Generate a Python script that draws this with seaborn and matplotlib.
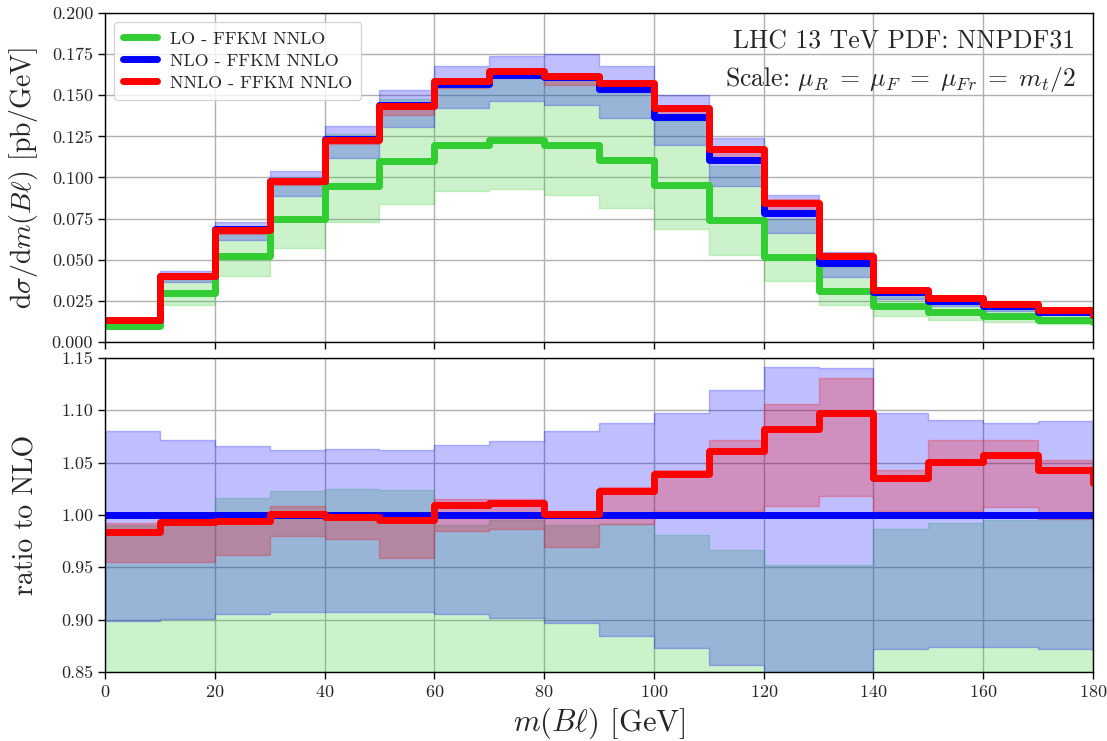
import numpy as np
import matplotlib
matplotlib.use("Agg")
import matplotlib.pyplot as plt
import seaborn as sns

# ---------------- data ----------------
edges = [0, 10, 20, 30, 40, 50, 60, 70, 80, 90, 100, 110, 120, 130, 140, 150, 160, 170, 180]

# top panel: differential cross section [pb/GeV]
lo_central = [0.0095, 0.0298, 0.052, 0.0748, 0.0947, 0.110, 0.1196, 0.123, 0.120, 0.1109,
              0.0953, 0.0744, 0.0515, 0.0312, 0.0221, 0.0180, 0.0156, 0.0131]
lo_end = 0.0120
lo_up = [0.0132, 0.0399, 0.0695, 0.0998, 0.1265, 0.1475, 0.1554, 0.1617, 0.1594, 0.1526,
         0.1344, 0.1069, 0.0747, 0.0455, 0.0298, 0.0250, 0.0217, 0.0184]
lo_dn = [0.0082, 0.0227, 0.0400, 0.0572, 0.0727, 0.0841, 0.0916, 0.0932, 0.0896, 0.0815,
         0.0687, 0.0531, 0.0369, 0.0227, 0.0156, 0.0136, 0.0120, 0.0110]

nlo_central = [0.0133, 0.0403, 0.0684, 0.0976, 0.1234, 0.1440, 0.1570, 0.1625, 0.1610, 0.1540,
               0.1370, 0.1105, 0.0785, 0.0478, 0.0302, 0.0252, 0.0218, 0.0185]
nlo_end = 0.0162
nlo_up = [0.0144, 0.0432, 0.0729, 0.1037, 0.1311, 0.1529, 0.1675, 0.1740, 0.1750, 0.1676,
          0.1503, 0.1237, 0.0896, 0.0545, 0.0331, 0.0275, 0.0237, 0.0202]
nlo_dn = [0.0120, 0.0363, 0.0619, 0.0886, 0.1119, 0.1307, 0.1420, 0.1467, 0.1443, 0.1362,
          0.1196, 0.0947, 0.0663, 0.0395, 0.0263, 0.0220, 0.0190, 0.0161]

nnlo_central = [0.0131, 0.0400, 0.0680, 0.0977, 0.1230, 0.1433, 0.1585, 0.1645, 0.1615, 0.1575,
                0.1423, 0.1172, 0.0847, 0.0522, 0.0313, 0.0265, 0.0231, 0.0193]
nnlo_end = 0.0166
nnlo_up = [0.0133, 0.0403, 0.0684, 0.0985, 0.1236, 0.1440, 0.1594, 0.1650, 0.1618, 0.1582,
           0.1429, 0.1185, 0.0868, 0.0541, 0.0315, 0.0270, 0.0234, 0.0195]
nnlo_dn = [0.0127, 0.0385, 0.0658, 0.0956, 0.1205, 0.1381, 0.1546, 0.1604, 0.1560, 0.1526,
           0.1375, 0.1109, 0.0792, 0.0487, 0.0303, 0.0253, 0.0220, 0.0184]

# bottom panel: ratio to NLO
r_nlo = [1.0] * 18
r_nlo_end = 1.0
r_nlo_up = [1.080, 1.072, 1.066, 1.062, 1.063, 1.062, 1.067, 1.071, 1.080, 1.088,
            1.097, 1.119, 1.141, 1.140, 1.097, 1.091, 1.088, 1.090]
r_nlo_dn = [0.899, 0.901, 0.905, 0.907, 0.907, 0.907, 0.905, 0.902, 0.897, 0.884,
            0.873, 0.857, 0.830, 0.830, 0.872, 0.874, 0.874, 0.872]

r_nnlo = [0.984, 0.993, 0.994, 1.001, 0.998, 0.995, 1.010, 1.011, 1.001, 1.023,
          1.039, 1.061, 1.082, 1.097, 1.035, 1.051, 1.057, 1.043]
r_nnlo_end = 1.031
r_nnlo_up = [0.992, 0.997, 0.998, 1.009, 1.001, 0.999, 1.015, 1.015, 1.004, 1.027,
             1.043, 1.072, 1.106, 1.131, 1.043, 1.072, 1.072, 1.053]
r_nnlo_dn = [0.955, 0.955, 0.962, 0.980, 0.977, 0.959, 0.985, 0.987, 0.969, 0.991,
             1.004, 1.004, 1.009, 1.018, 1.004, 1.004, 1.008, 0.996]

r_lo_up = [0.990, 0.990, 1.016, 1.023, 1.025, 1.024, 0.990, 0.995, 0.990, 0.991,
           0.981, 0.967, 0.952, 0.952, 0.987, 0.992, 0.995, 0.996]
r_lo_dn = [0.64, 0.56, 0.585, 0.586, 0.589, 0.584, 0.583, 0.574, 0.557, 0.529,
           0.501, 0.48, 0.47, 0.475, 0.517, 0.54, 0.55, 0.59]

labels = ["LO - FFKM NNLO", "NLO - FFKM NNLO", "NNLO - FFKM NNLO"]
colors = ["#32cd32", "#0000ff", "#ff0000"]

# ---------------- style ----------------
sns.set_theme(style="ticks")
plt.rcParams["font.family"] = ["cmr10", "DejaVu Serif"]
plt.rcParams["mathtext.fontset"] = "cm"
plt.rcParams["axes.unicode_minus"] = False
plt.rcParams["axes.formatter.use_mathtext"] = True

fig = plt.figure(figsize=(11.07, 7.41), dpi=100)
ax1 = fig.add_axes([0.0949, 0.5385, 0.8925, 0.4440])
ax2 = fig.add_axes([0.0949, 0.0931, 0.8925, 0.4238])

x = np.array(edges, dtype=float)


def ext(a):
    return np.append(np.asarray(a, dtype=float), a[-1])


def band(ax, dn, up, color):
    ax.fill_between(x, ext(dn), ext(up), step="post", color=color, alpha=0.25, lw=1)


def line(ax, vals, end, color, lw, label=None):
    y = np.append(np.asarray(vals, dtype=float), end)
    sns.lineplot(x=x, y=y, ax=ax, color=color, lw=lw, drawstyle="steps-post",
                 label=label, legend=False, sort=False, estimator=None)


# top panel
band(ax1, lo_dn, lo_up, colors[0])
band(ax1, nlo_dn, nlo_up, colors[1])
band(ax1, nnlo_dn, nnlo_up, colors[2])
line(ax1, lo_central, lo_end, colors[0], 5, labels[0])
line(ax1, nlo_central, nlo_end, colors[1], 5, labels[1])
line(ax1, nnlo_central, nnlo_end, colors[2], 5, labels[2])

# bottom panel
band(ax2, r_lo_dn, r_lo_up, colors[0])
band(ax2, r_nlo_dn, r_nlo_up, colors[1])
band(ax2, r_nnlo_dn, r_nnlo_up, colors[2])
line(ax2, r_nlo, r_nlo_end, colors[1], 5)
line(ax2, r_nnlo, r_nnlo_end, colors[2], 5)

for ax in (ax1, ax2):
    ax.set_xlim(0, 180)
    ax.set_xticks(np.arange(0, 181, 20))
    ax.grid(True, color="#b0b0b0", lw=1.0)
    ax.set_axisbelow(True)
    for s in ax.spines.values():
        s.set_color("black")
        s.set_linewidth(1.0)
    ax.tick_params(axis="both", labelsize=13, color="black", length=5, width=1)

ax1.set_ylim(0, 0.2)
ax1.set_yticks(np.arange(0, 0.2001, 0.025))
ax1.set_yticklabels([f"{v:.3f}" for v in np.arange(0, 0.2001, 0.025)])
ax1.tick_params(axis="x", labelbottom=False)
ax1.set_xlabel("")
ax1.set_ylabel(r"$\mathrm{d}\sigma/\mathrm{d}m(B\ell)$ [pb/GeV]", fontsize=20)

ax2.set_ylim(0.85, 1.15)
ax2.set_yticks(np.arange(0.85, 1.1501, 0.05))
ax2.set_yticklabels([f"{v:.2f}" for v in np.arange(0.85, 1.1501, 0.05)])
ax2.set_ylabel("ratio to NLO", fontsize=20)
ax2.set_xlabel(r"$m(B\ell)$ [GeV]", fontsize=22)

ax1.yaxis.set_label_coords(-0.066, 0.5)
ax2.yaxis.set_label_coords(-0.066, 0.5)

ax1.text(0.982, 0.912, "LHC 13 TeV PDF: NNPDF31", transform=ax1.transAxes,
         ha="right", va="center", fontsize=18.5)
ax1.text(0.982, 0.797,
         r"Scale: $\mu_R\;=\;\mu_F\;=\;\mu_{Fr}\;=\;m_t/2$",
         transform=ax1.transAxes, ha="right", va="center", fontsize=18.5)

leg = ax1.legend(loc="upper left", fontsize=13, handlelength=1.9, handletextpad=0.7,
                 frameon=True, fancybox=True, framealpha=0.8, borderpad=0.5,
                 labelspacing=0.35)
leg.get_frame().set_edgecolor("#cccccc")
for h in leg.legend_handles:
    h.set_linewidth(5)

fig.savefig("out.png", dpi=100)
